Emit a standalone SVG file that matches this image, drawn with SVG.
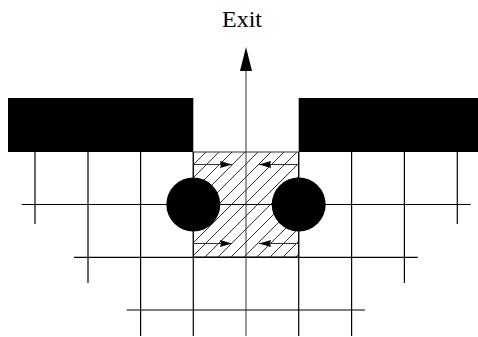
<svg xmlns="http://www.w3.org/2000/svg" width="478" height="337" viewBox="0 0 478 337">
<style>
.g{stroke:#000;stroke-width:1.2;fill:none}
.h{stroke:#333;stroke-width:1;fill:none}
.blk{fill:#000}
text{font-family:"Liberation Serif","Times New Roman",serif;font-size:24px;fill:#000}
</style>
<defs>
<pattern id="hatch" patternUnits="userSpaceOnUse" width="13" height="13" x="193" y="152">
<path d="M0,13 L13,0 M-3,3 L3,-3 M10,16 L16,10" stroke="#000" stroke-width="0.8"/>
</pattern>
<marker id="ah" viewBox="0 0 12 7" refX="12" refY="3.5" markerWidth="12" markerHeight="7" markerUnits="userSpaceOnUse" orient="auto">
<path d="M0,0 L12,3.5 L0,7 L1,3.5 Z" fill="#000"/>
</marker>
</defs>
<g id="walls">
<rect class="blk" x="8" y="98" width="185.3" height="54"/>
<rect class="blk" x="298.7" y="98" width="179.3" height="54"/>
</g>
<g id="zone">
<rect x="193.3" y="152" width="105.4" height="105" fill="url(#hatch)" stroke="#333" stroke-width="1"/>
</g>
<g id="grid">
<line class="g" x1="35" y1="152" x2="35" y2="224"/>
<line class="g" x1="457.3" y1="152" x2="457.3" y2="224"/>
<line class="g" x1="88" y1="152" x2="88" y2="283"/>
<line class="g" x1="404.4" y1="152" x2="404.4" y2="283"/>
<line class="g" x1="140.6" y1="152" x2="140.6" y2="336"/>
<line class="g" x1="351.6" y1="152" x2="351.6" y2="336"/>
<line class="g" x1="193.3" y1="152" x2="193.3" y2="336"/>
<line class="g" x1="298.7" y1="152" x2="298.7" y2="336"/>
<line class="g" x1="21.7" y1="204.5" x2="470.7" y2="204.5"/>
<line class="g" x1="74" y1="257.3" x2="417.7" y2="257.3"/>
<line class="g" x1="126.7" y1="310" x2="365" y2="310"/>
</g>
<g id="connectors">
<line class="h" x1="246" y1="336" x2="246" y2="60"/>
<path d="M246,47 L252,71 L240,71 Z" fill="#000"/>
<line class="h" x1="193.3" y1="164.5" x2="232" y2="164.5" marker-end="url(#ah)"/>
<line class="h" x1="298.7" y1="164.5" x2="259" y2="164.5" marker-end="url(#ah)"/>
<line class="h" x1="193.3" y1="243.5" x2="232" y2="243.5" marker-end="url(#ah)"/>
<line class="h" x1="298.7" y1="243.5" x2="259" y2="243.5" marker-end="url(#ah)"/>
</g>
<g id="pillars">
<circle class="blk" cx="193.3" cy="204.5" r="27"/>
<circle class="blk" cx="298.7" cy="204.5" r="27"/>
</g>
<g id="label">
<text x="242" y="26.5" text-anchor="middle">Exit</text>
</g>
</svg>
